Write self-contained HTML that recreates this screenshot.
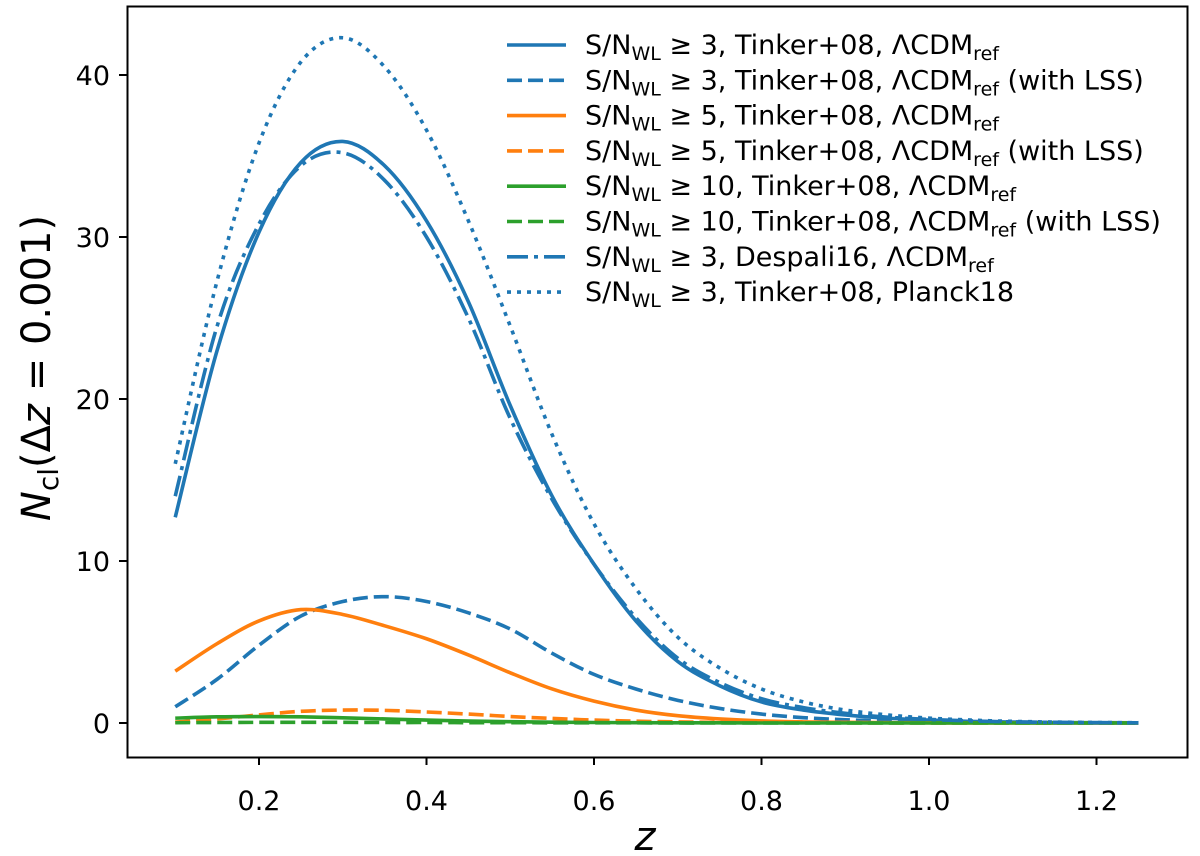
<!DOCTYPE html>
<html><head><meta charset="utf-8"><style>
html,body{margin:0;padding:0;background:#fff;}
svg{display:block;font-family:"DejaVu Sans","Liberation Sans",sans-serif;}
</style></head><body>
<svg id="chart" width="1200" height="856" viewBox="0 0 1200 856">
<g id="lines"></g>
<rect x="127.5" y="6.5" width="1060" height="751" fill="none" stroke="#000" stroke-width="2"/>
<g id="xticks"></g>
<g id="yticks"></g>
<text x="645" y="850" font-size="40" font-style="italic" text-anchor="middle">z</text>
<text transform="translate(50,368) rotate(-90)" font-size="40" text-anchor="middle"><tspan font-style="italic">N</tspan><tspan font-size="28" dy="8">cl</tspan><tspan dy="-8">(Δ</tspan><tspan font-style="italic">z</tspan><tspan> = 0.001)</tspan></text>
<g id="legend"></g>
</svg>
<script>
const zs=[0.10,0.15,0.20,0.25,0.30,0.35,0.40,0.45,0.50,0.55,0.60,0.65,0.70,0.75,0.80,0.85,0.90,0.95,1.00,1.05,1.10,1.15,1.20,1.25];
const sn3=[12.7,23.0,30.3,34.6,35.9,34.4,31.0,26.0,19.6,14.0,9.8,6.3,3.8,2.3,1.3,0.8,0.5,0.3,0.18,0.1,0.06,0.03,0.02,0.01];
const sn3lss=[1.0,2.7,4.8,6.6,7.5,7.8,7.5,6.8,5.8,4.3,3.0,2.1,1.4,0.9,0.55,0.33,0.2,0.12,0.07,0.04,0.02,0.01,0.01,0.0];
const sn5=[3.2,4.9,6.3,7.0,6.7,6.0,5.2,4.2,3.1,2.1,1.35,0.8,0.45,0.25,0.13,0.07,0.04,0.02,0.01,0,0,0,0,0];
const sn5lss=[0.05,0.25,0.5,0.72,0.8,0.78,0.68,0.55,0.4,0.28,0.18,0.11,0.07,0.04,0.02,0.01,0.01,0,0,0,0,0,0,0];
const sn10=[0.3,0.38,0.4,0.38,0.32,0.25,0.18,0.12,0.08,0.05,0.03,0.02,0.01,0.01,0,0,0,0,0,0,0,0,0,0];
const sn10lss=[0.02,0.03,0.04,0.04,0.04,0.03,0.03,0.02,0.02,0.01,0.01,0.01,0,0,0,0,0,0,0,0,0,0,0,0];
const despali=[14.0,24.5,30.8,34.4,35.2,33.5,30.0,25.0,18.8,13.8,9.8,6.5,4.0,2.5,1.5,0.95,0.6,0.36,0.22,0.13,0.07,0.04,0.02,0.01];
const planck=[16.0,27.3,35.8,40.8,42.3,40.5,36.6,31.0,24.5,17.8,12.3,8.3,5.3,3.4,2.1,1.3,0.8,0.5,0.3,0.18,0.1,0.06,0.03,0.02];
const xTicks=[0.2,0.4,0.6,0.8,1.0,1.2];
const xTickLabels=["0.2","0.4","0.6","0.8","1.0","1.2"];
const yTicks=[0,10,20,30,40];
const yTickLabels=["0","10","20","30","40"];

const NS="http://www.w3.org/2000/svg";
function X(z){return 259+(z-0.2)/0.2*167.5;}
function Y(v){return 723-v*16.2;}
const B="#1f77b4",O="#ff7f0e",G="#2ca02c";
const series=[
 {name:"sn3-tinker",d:sn3,c:B,dash:""},
 {name:"sn3-tinker-lss",d:sn3lss,c:B,dash:"15 6"},
 {name:"sn5-tinker",d:sn5,c:O,dash:""},
 {name:"sn5-tinker-lss",d:sn5lss,c:O,dash:"15 6"},
 {name:"sn10-tinker",d:sn10,c:G,dash:""},
 {name:"sn10-tinker-lss",d:sn10lss,c:G,dash:"15 6"},
 {name:"sn3-despali",d:despali,c:B,dash:"21 6 4 6"},
 {name:"sn3-planck",d:planck,c:B,dash:"4 6"}
];
function pathFor(d){
 const p=zs.map((z,i)=>[X(z),Y(d[i])]);
 let s="M"+p[0][0].toFixed(2)+","+p[0][1].toFixed(2);
 for(let i=0;i<p.length-1;i++){
  const p0=p[Math.max(i-1,0)],p1=p[i],p2=p[i+1],p3=p[Math.min(i+2,p.length-1)];
  const c1=[p1[0]+(p2[0]-p0[0])/6,p1[1]+(p2[1]-p0[1])/6];
  const c2=[p2[0]-(p3[0]-p1[0])/6,p2[1]-(p3[1]-p1[1])/6];
  s+=" C"+c1[0].toFixed(2)+","+c1[1].toFixed(2)+" "+c2[0].toFixed(2)+","+c2[1].toFixed(2)+" "+p2[0].toFixed(2)+","+p2[1].toFixed(2);
 }
 return s;
}
const lg=document.getElementById('lines');
series.forEach(s=>{
 const el=document.createElementNS(NS,'path');
 el.setAttribute('d',pathFor(s.d));
 el.setAttribute('fill','none');
 el.setAttribute('stroke',s.c);
 el.setAttribute('stroke-width','3.6');
 if(s.dash)el.setAttribute('stroke-dasharray',s.dash);
 
 
 lg.appendChild(el);
});
const xt=document.getElementById('xticks');
xTicks.forEach((t,i)=>{
 const l=document.createElementNS(NS,'line');
 l.setAttribute('x1',X(t));l.setAttribute('x2',X(t));l.setAttribute('y1',757);l.setAttribute('y2',765);
 l.setAttribute('stroke','#000');l.setAttribute('stroke-width','2');
 
 
 xt.appendChild(l);
 const tx=document.createElementNS(NS,'text');
 tx.setAttribute('x',X(t));tx.setAttribute('y',810);tx.setAttribute('font-size','27');tx.setAttribute('text-anchor','middle');
 tx.textContent=xTickLabels[i];
 
 
 xt.appendChild(tx);
});
const yt=document.getElementById('yticks');
yTicks.forEach((t,i)=>{
 const l=document.createElementNS(NS,'line');
 l.setAttribute('x1',119);l.setAttribute('x2',127);l.setAttribute('y1',Y(t));l.setAttribute('y2',Y(t));
 l.setAttribute('stroke','#000');l.setAttribute('stroke-width','2');
 
 
 yt.appendChild(l);
 const tx=document.createElementNS(NS,'text');
 tx.setAttribute('x',110);tx.setAttribute('y',Y(t)+10);tx.setAttribute('font-size','27');tx.setAttribute('text-anchor','end');
 tx.textContent=yTickLabels[i];
 
 
 yt.appendChild(tx);
});
const legTexts=[
 ["3","Tinker+08, ΛCDM","ref",""],
 ["3","Tinker+08, ΛCDM","ref"," (with LSS)"],
 ["5","Tinker+08, ΛCDM","ref",""],
 ["5","Tinker+08, ΛCDM","ref"," (with LSS)"],
 ["10","Tinker+08, ΛCDM","ref",""],
 ["10","Tinker+08, ΛCDM","ref"," (with LSS)"],
 ["3","Despali16, ΛCDM","ref",""],
 ["3","Tinker+08, Planck18","",""]
];
const leg=document.getElementById('legend');
series.forEach((s,i)=>{
 const y=45+i*35.3;
 const g=document.createElementNS(NS,'g');
 
 
 const l=document.createElementNS(NS,'line');
 l.setAttribute('x1',507);l.setAttribute('x2',566);l.setAttribute('y1',y);l.setAttribute('y2',y);
 l.setAttribute('stroke',s.c);l.setAttribute('stroke-width','3.6');
 if(s.dash)l.setAttribute('stroke-dasharray',s.dash);
 g.appendChild(l);
 const t=legTexts[i];
 const tx=document.createElementNS(NS,'text');
 tx.setAttribute('x',585);tx.setAttribute('y',y+9);tx.setAttribute('font-size','27');
 tx.innerHTML='S/N<tspan font-size="19" dy="6">WL</tspan><tspan dy="-6"> ≥ '+t[0]+', '+t[1]+'</tspan>'+(t[2]?'<tspan font-size="19" dy="6">'+t[2]+'</tspan><tspan dy="-6">'+t[3]+'</tspan>':'');
 g.appendChild(tx);
 leg.appendChild(g);
});
</script>
</body></html>
